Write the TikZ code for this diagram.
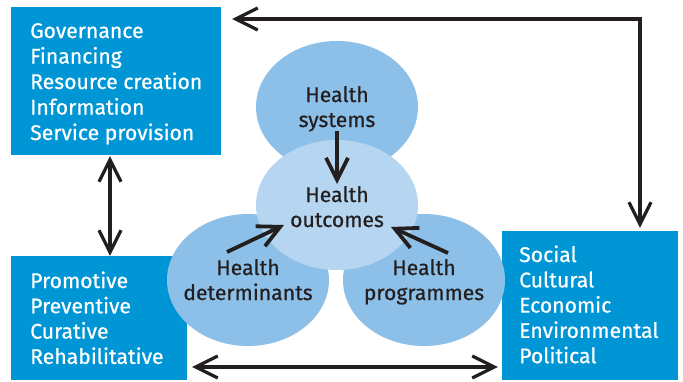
\documentclass[tikz,border=0pt]{standalone}
\usepackage{fontspec}
\setmainfont{Fira Sans}[FakeBold=0.6]
\usetikzlibrary{arrows.meta,shapes.geometric}
\definecolor{boxblue}{HTML}{0096D6}
\definecolor{ellblue}{HTML}{8CC0E8}
\definecolor{ctrblue}{HTML}{B5D5F0}
\definecolor{ink}{HTML}{231F20}
\tikzset{
  bluebox/.style={draw=none, fill=boxblue, rectangle, inner sep=0pt},
  boxtext/.style={text=white, inner sep=0pt, anchor=base west, font=\fontsize{21.2}{24}\selectfont},
  ell/.style={ellipse, fill=ellblue, draw=none, inner sep=0pt, minimum width=162pt, minimum height=132pt},
  elltext/.style={text=ink, inner sep=0pt, anchor=base, font=\fontsize{21.2}{24}\selectfont},
  tipb/.tip={Straight Barb[length=22pt,width=22pt,line join=miter]},
  dblarr/.style={draw=ink, line width=3.2pt, tipb-tipb},
  inarr/.style={draw=ink, line width=3.8pt, -tipb},
}
\begin{document}
\begin{tikzpicture}[x=1pt,y=1pt]
\useasboundingbox (0,0) rectangle (683,-381);
% boxes
\node[bluebox, minimum width=210pt, minimum height=148pt] (tl) at (116,-81) {};
\node[bluebox, minimum width=176pt, minimum height=124pt] (bl) at (99,-318) {};
\node[bluebox, minimum width=176pt, minimum height=149pt] (rb) at (590,-305.5) {};
\foreach \t [count=\i] in {Governance, Financing, Resource creation, Information, Service provision}
  \node[boxtext] (tlt\i) at (30,{-38-25.5*(\i-1)}) {\t};
\foreach \t [count=\i] in {Promotive, Preventive, Curative, Rehabilitative}
  \node[boxtext] (blt\i) at (30,{-288-25.3*(\i-1)}) {\t};
\foreach \t [count=\i] in {Social, Cultural, Economic, Environmental, Political}
  \node[boxtext] (rbt\i) at (519,{-262-25.3*(\i-1)}) {\t};
% ellipses
\node[ell] (det) at (248,-280) {};
\node[ell] (prog) at (424,-280) {};
\node[ell] (sys) at (337,-107) {};
\node[ell, fill=ctrblue, minimum height=130pt] (out) at (337,-205) {};
% ellipse texts
\node[elltext] (sys1) at (337,-102) {Health};
\node[elltext] (sys2) at (337,-127) {systems};
\node[elltext] (out1) at (337,-202) {Health};
\node[elltext] (out2) at (337,-227) {outcomes};
\node[elltext] (det1) at (248,-275) {Health};
\node[elltext] (det2) at (248,-300) {determinants};
\node[elltext] (prog1) at (424,-275) {Health};
\node[elltext] (prog2) at (424,-300) {programmes};
% inner arrows
\coordinate (s0) at (337,-131);
\coordinate (s1) at (337,-184);
\coordinate (d0) at (227,-252);
\coordinate (d1) at (284,-225);
\coordinate (p0) at (448,-253);
\coordinate (p1) at (391,-227);
\draw[inarr] (s0) -- (s1);
\draw[inarr] (d0) -- (d1);
\draw[inarr] (p0) -- (p1);
% outer connectors
\coordinate (corner) at (640,-19);
\path ([xshift=11pt]tl.east) coordinate (tle);
\path ([yshift=3pt]rb.north) coordinate (rbn);
\draw[dblarr] (tle |- corner) -- (corner) -- (rbn -| corner);
\path ([xshift=-6pt,yshift=-1pt]tl.south) coordinate (tls);
\path ([xshift=11pt]bl.north) coordinate (bln);
\draw[dblarr] (tls) -- (tls |- bln);
\coordinate (hy) at (0,-367);
\path ([xshift=5pt]bl.east) coordinate (ble);
\path ([xshift=-4pt]rb.west) coordinate (rbw);
\draw[dblarr] (ble |- hy) -- (rbw |- hy);
\end{tikzpicture}
\end{document}
